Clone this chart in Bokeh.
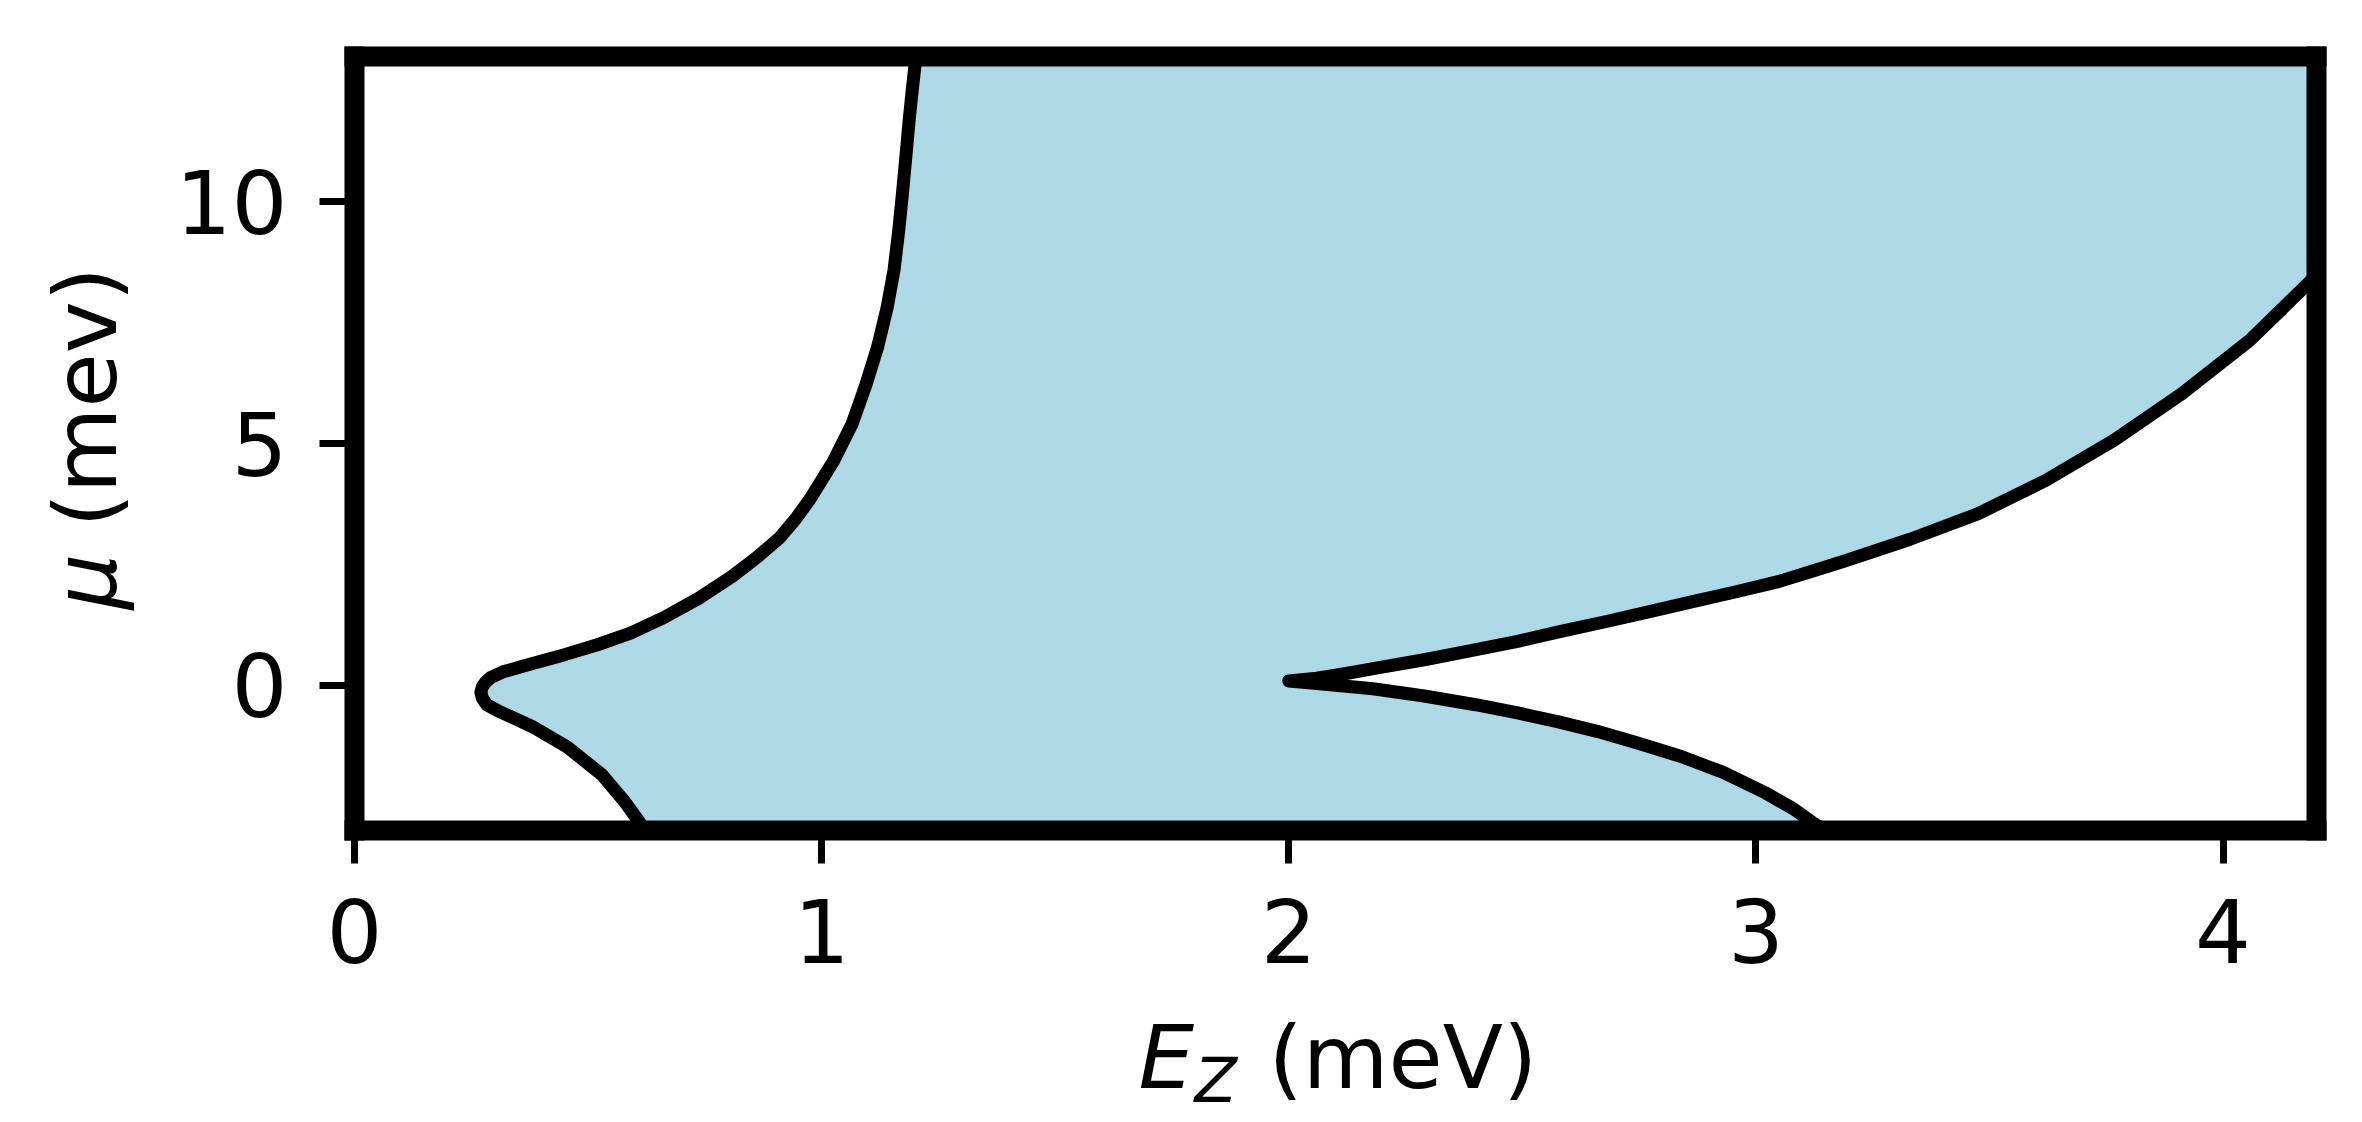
import math
from bokeh.plotting import figure
from bokeh.layouts import row, column
from bokeh.models import Range1d, LinearAxis, FixedTicker
from bokeh.core.properties import value
from bokeh.embed import file_html
from bokeh.resources import INLINE

# ---- data ----
# left boundary: E_Z (meV) as a function of mu (meV)
mu_left = [-3.0, -2.80, -2.40, -1.85, -1.27, -0.85, -0.52, -0.40, -0.27, -0.145,
           -0.02, 0.07, 0.16, 0.28, 0.44, 0.63, 0.84, 1.08, 1.40, 1.80, 2.25,
           2.65, 3.05, 3.45, 3.85, 4.63, 5.40, 6.22, 7.00, 7.80, 8.59, 9.40,
           10.17, 11.00, 11.75, 12.40, 13.0]
ez_left = [0.622, 0.608, 0.578, 0.530, 0.455, 0.380, 0.306, 0.283, 0.274, 0.2705,
           0.274, 0.281, 0.291, 0.318, 0.377, 0.448, 0.520, 0.591, 0.662, 0.737, 0.808,
           0.862, 0.910, 0.945, 0.975, 1.025, 1.065, 1.095, 1.120, 1.140, 1.155, 1.165,
           1.173, 1.181, 1.188, 1.195, 1.202]

# right boundary (with the cusp near E_Z = 2)
mu_right = [-3.0, -2.88, -2.55, -2.22, -1.80, -1.47, -1.20, -0.95, -0.75, -0.57,
            -0.40, -0.22, -0.07, 0.04, 0.09, 0.15, 0.24, 0.36, 0.53, 0.72,
            0.91, 1.11, 1.32, 1.52, 1.72, 1.94, 2.15, 2.36, 2.57, 3.02, 3.55,
            4.24, 5.07, 6.03, 7.13, 8.29, 8.48]
ez_right = [3.150, 3.128, 3.080, 3.020, 2.930, 2.840, 2.750, 2.660, 2.575, 2.490,
            2.400, 2.290, 2.180, 2.060, 2.000, 2.060, 2.120, 2.190, 2.290, 2.390,
            2.490, 2.580, 2.680, 2.770, 2.860, 2.960, 3.050, 3.120, 3.190, 3.330, 3.476,
            3.621, 3.767, 3.912, 4.057, 4.180, 4.200]

x_ticks = [0, 1, 2, 3, 4]
y_ticks = [0, 5, 10]
X_MIN, X_MAX = 0.0, 4.2
Y_MIN, Y_MAX = -3.0, 13.0

# ---- layout (page pixels) ----
TOTAL_W, TOTAL_H = 2350, 1118
YLAB_W = 160
MAIN_H = 1002
XLAB_H = TOTAL_H - MAIN_H
MAIN_W = TOTAL_W - YLAB_W
FRAME_L, FRAME_R, FRAME_T, FRAME_B = 354, 2316, 56, 830

FONT = "DejaVu Sans"
FS = "88px"

p = figure(width=MAIN_W, height=MAIN_H, output_backend="svg", toolbar_location=None,
           x_range=Range1d(X_MIN, X_MAX), y_range=Range1d(Y_MIN, Y_MAX),
           min_border_left=FRAME_L - YLAB_W, min_border_right=TOTAL_W - FRAME_R,
           min_border_top=FRAME_T, min_border_bottom=MAIN_H - FRAME_B)
p.title.visible = False
p.outline_line_color = None
p.grid.visible = False
p.background_fill_color = "white"
p.border_fill_color = "white"

# filled region between the two boundaries
poly_x = ez_left + [X_MAX] + ez_right[::-1]
poly_y = mu_left + [Y_MAX] + mu_right[::-1]
p.patch(poly_x, poly_y, fill_color="#ADD8E6", line_color=None)

p.line(ez_left, mu_left, line_width=13, line_color="black", line_join="round")
p.line(ez_right, mu_right, line_width=13, line_color="black", line_join="round")

SPINE = 20


def style_axis(ax, ticks, tick_out, standoff):
    ax.ticker = FixedTicker(ticks=ticks)
    ax.axis_line_width = SPINE
    ax.axis_line_color = "black"
    ax.axis_line_cap = "square"
    ax.major_tick_in = 0
    ax.major_tick_out = tick_out
    ax.major_tick_line_width = 7
    ax.major_tick_line_color = "black"
    ax.major_tick_line_cap = "butt"
    ax.minor_tick_in = 0
    ax.minor_tick_out = 0
    ax.major_label_text_font = FONT
    ax.major_label_text_font_size = FS
    ax.major_label_text_color = "black"
    ax.major_label_standoff = standoff


style_axis(p.xaxis[0], x_ticks, 33, 35)
style_axis(p.yaxis[0], y_ticks, 35, 32)

for loc in ("above", "right"):
    ax = LinearAxis(ticker=FixedTicker(ticks=[]))
    ax.axis_line_width = SPINE
    ax.axis_line_color = "black"
    ax.axis_line_cap = "square"
    ax.major_tick_out = 0
    ax.major_tick_in = 0
    ax.minor_tick_out = 0
    ax.minor_tick_in = 0
    ax.major_label_text_font_size = "0px"
    p.add_layout(ax, loc)


def text_panel(w, h, xr, yr, bl=0, br=0, bt=0, bb=0):
    """A bare figure whose data units are page pixels (y grows downward)."""
    f = figure(width=w, height=h, output_backend="svg", toolbar_location=None,
               x_range=Range1d(*xr), y_range=Range1d(*yr),
               x_axis_location=None, y_axis_location=None,
               min_border_left=bl, min_border_right=br,
               min_border_top=bt, min_border_bottom=bb)
    f.title.visible = False
    f.outline_line_color = None
    f.grid.visible = False
    f.background_fill_color = "white"
    f.border_fill_color = "white"
    return f


def put(f, x, y, text, size=FS, style="normal", angle=0.0):
    f.text(x=[x], y=[y], text=[text], text_font=value(FONT),
           text_font_size=value(size), text_font_style=style,
           text_color="black", text_align="left", text_baseline="alphabetic",
           angle=angle)


# x-axis title:  E_Z (meV)   (frame kept aligned with the main frame)
fx = text_panel(MAIN_W, XLAB_H, (FRAME_L, FRAME_R), (TOTAL_H, MAIN_H),
                bl=FRAME_L - YLAB_W, br=TOTAL_W - FRAME_R)
put(fx, 1138, 1057, "E", style="italic")
put(fx, 1194, 1080, "Z", size="62px", style="italic")
put(fx, 1268, 1057, "(meV)")

# y-axis title:  mu (mev)
fy = text_panel(YLAB_W, TOTAL_H, (0, YLAB_W), (TOTAL_H, 0))
put(fy, 85, 609, "\u03bc", style="italic", angle=math.pi / 2)
put(fy, 85, 527, "(mev)", angle=math.pi / 2)

layout = row(fy, column(p, fx))

open("out.html", "w").write(file_html(layout, INLINE))
